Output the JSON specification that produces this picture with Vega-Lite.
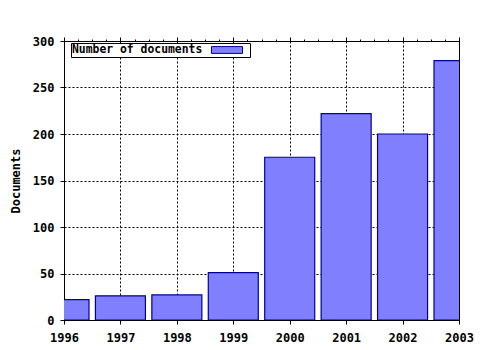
{
  "$schema": "https://vega.github.io/schema/vega-lite/v6.json",
  "width": 395,
  "height": 279,
  "autosize": "none",
  "padding": {"left": 64, "top": 41, "right": 21, "bottom": 30},
  "background": "white",
  "data": {
    "values": [
      {"year": 1996, "documents": 22},
      {"year": 1997, "documents": 26},
      {"year": 1998, "documents": 27},
      {"year": 1999, "documents": 51},
      {"year": 2000, "documents": 175},
      {"year": 2001, "documents": 222},
      {"year": 2002, "documents": 200},
      {"year": 2003, "documents": 279}
    ]
  },
  "config": {
    "view": {"stroke": "black", "strokeWidth": 1},
    "font": "DejaVu Sans Mono",
    "axis": {
      "labelFont": "DejaVu Sans Mono",
      "labelFontWeight": "bold",
      "labelFontSize": 12,
      "labelColor": "black",
      "titleFont": "DejaVu Sans Mono",
      "titleFontWeight": "bold",
      "titleFontSize": 12,
      "titleColor": "black",
      "domainColor": "black",
      "tickColor": "black",
      "gridColor": "black",
      "gridOpacity": 1,
      "gridDash": [2, 2],
      "labelFlush": false,
      "labelOverlap": false,
      "labelBound": false
    }
  },
  "layer": [
    {
      "mark": {"type": "bar", "width": 50, "clip": true, "stroke": "#000099", "strokeWidth": 1.2},
      "encoding": {
        "x": {
          "field": "year",
          "type": "quantitative",
          "scale": {"domain": [1996, 2003], "nice": false, "zero": false, "padding": 0},
          "axis": {
            "orient": "bottom",
            "title": null,
            "format": "d",
            "values": [1996, 1996.25, 1996.5, 1996.75, 1997, 1997.25, 1997.5, 1997.75, 1998, 1998.25, 1998.5, 1998.75, 1999, 1999.25, 1999.5, 1999.75, 2000, 2000.25, 2000.5, 2000.75, 2001, 2001.25, 2001.5, 2001.75, 2002, 2002.25, 2002.5, 2002.75, 2003],
            "labelExpr": "datum.value % 1 === 0 ? datum.label : ''",
            "tickSize": {"condition": {"test": "datum.value % 1 === 0", "value": 4}, "value": 2},
            "grid": true,
            "gridOpacity": {"condition": {"test": "datum.value % 1 === 0", "value": 1}, "value": 0},
            "labelPadding": 8
          }
        },
        "y": {
          "field": "documents",
          "type": "quantitative",
          "scale": {"domain": [0, 300], "nice": false, "padding": 0},
          "axis": {
            "title": "Documents",
            "values": [0, 50, 100, 150, 200, 250, 300],
            "grid": true,
            "tickSize": 4,
            "labelPadding": 6,
            "titlePadding": 10
          }
        },
        "color": {
          "datum": "Number of documents",
          "type": "nominal",
          "scale": {"range": ["#8080ff"]},
          "legend": {
            "orient": "none",
            "legendX": 7,
            "legendY": 2,
            "title": "Number of documents",
            "titleOrient": "left",
            "titleFont": "DejaVu Sans Mono",
            "titleFontWeight": "bold",
            "titleFontSize": 11.4,
            "titleColor": "black",
            "titlePadding": 18,
            "labelExpr": "''",
            "labelOffset": 16,
            "padding": 1,
            "fillColor": "white",
            "strokeColor": "black",
            "symbolType": "M-3,-0.66H3V0.66H-3Z",
            "symbolSize": 107,
            "symbolStrokeColor": "#000099",
            "symbolStrokeWidth": 1,
            "symbolOpacity": 1
          }
        }
      }
    },
    {
      "mark": {"type": "point", "opacity": 0},
      "encoding": {
        "x": {
          "field": "year",
          "type": "quantitative",
          "axis": {
            "orient": "top",
            "title": null,
            "labels": false,
            "grid": false,
            "zindex": 1,
            "values": [1996, 1996.25, 1996.5, 1996.75, 1997, 1997.25, 1997.5, 1997.75, 1998, 1998.25, 1998.5, 1998.75, 1999, 1999.25, 1999.5, 1999.75, 2000, 2000.25, 2000.5, 2000.75, 2001, 2001.25, 2001.5, 2001.75, 2002, 2002.25, 2002.5, 2002.75, 2003],
            "tickSize": {"condition": {"test": "datum.value % 1 === 0", "value": 4}, "value": 2}
          }
        },
        "y": {
          "field": "documents",
          "type": "quantitative",
          "axis": {
            "orient": "right",
            "title": null,
            "labels": false,
            "ticks": false,
            "grid": false,
            "zindex": 1
          }
        }
      }
    }
  ],
  "resolve": {"axis": {"x": "independent", "y": "independent"}}
}
